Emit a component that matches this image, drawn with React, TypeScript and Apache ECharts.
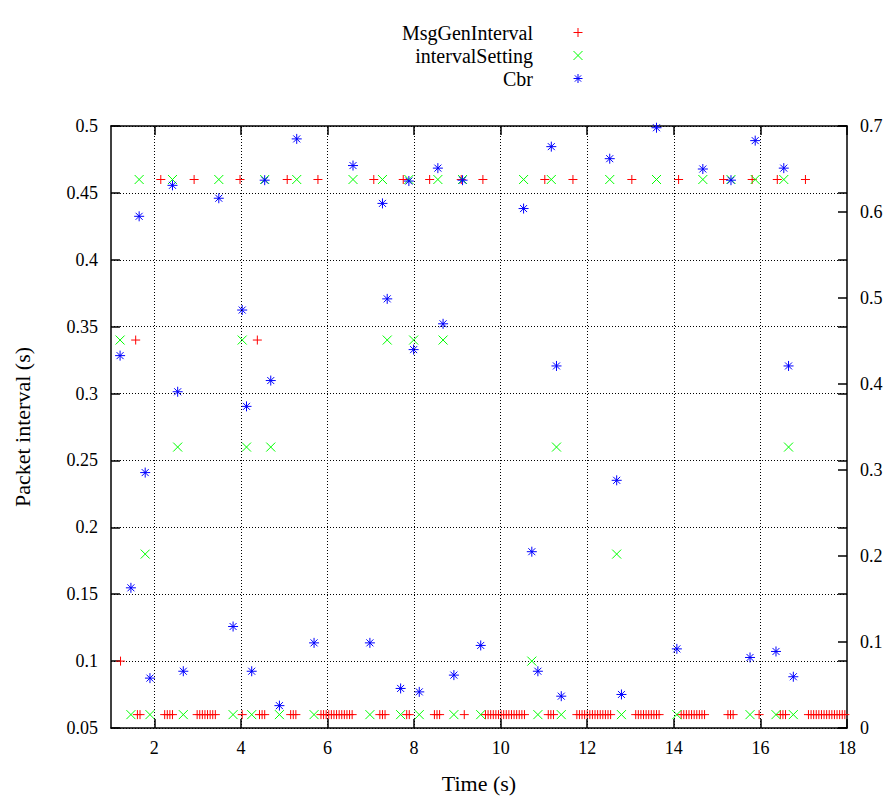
import React, { useEffect, useRef } from "react";
import * as echarts from "echarts";

// Sample times shared by Cbr and intervalSetting (s)
const sampleTime = [1.21, 1.46, 1.65, 1.79, 1.90, 2.42, 2.54, 2.67, 3.49, 3.82, 4.03, 4.13, 4.25, 4.55, 4.69, 4.89, 5.29, 5.69, 6.59, 6.98, 7.27, 7.38, 7.69, 7.88, 7.99, 8.12, 8.55, 8.67, 8.92, 9.12, 9.54, 10.53, 10.72, 10.86, 11.17, 11.29, 11.40, 12.52, 12.68, 12.79, 13.60, 14.07, 14.67, 15.32, 15.76, 15.88, 16.36, 16.54, 16.65, 16.76];
const cbrValue = [0.433, 0.163, 0.595, 0.297, 0.058, 0.631, 0.391, 0.066, 0.616, 0.118, 0.486, 0.374, 0.066, 0.637, 0.404, 0.026, 0.685, 0.099, 0.654, 0.099, 0.610, 0.499, 0.046, 0.636, 0.44, 0.042, 0.651, 0.47, 0.0615, 0.637, 0.096, 0.604, 0.205, 0.066, 0.676, 0.421, 0.037, 0.662, 0.288, 0.039, 0.698, 0.092, 0.650, 0.637, 0.082, 0.683, 0.089, 0.651, 0.421, 0.0596];
const intervalSettingValue = [0.34, 0.06, 0.46, 0.18, 0.06, 0.46, 0.26, 0.06, 0.46, 0.06, 0.34, 0.26, 0.06, 0.46, 0.26, 0.06, 0.46, 0.06, 0.46, 0.06, 0.46, 0.34, 0.06, 0.46, 0.34, 0.06, 0.46, 0.34, 0.06, 0.46, 0.06, 0.46, 0.10, 0.06, 0.46, 0.26, 0.06, 0.46, 0.18, 0.06, 0.46, 0.06, 0.46, 0.46, 0.06, 0.46, 0.06, 0.46, 0.26, 0.06];

// MsgGenInterval samples
const msgTime = [
  1.22, 1.57, 1.61, 1.67, 2.15, 2.24, 2.30, 2.36, 2.42, 2.92,
  2.99, 3.05, 3.11, 3.17, 3.23, 3.29, 3.35, 3.41, 3.98, 4.03,
  4.38, 4.43, 4.49, 4.55, 5.07, 5.15, 5.21, 5.27, 5.78,
  5.85, 5.91, 5.97, 6.03, 6.09, 6.15, 6.21, 6.27, 6.33, 6.39, 6.45, 6.51, 6.57,
  7.07, 7.21, 7.27, 7.33, 7.75, 7.83, 7.89, 8.36, 8.47, 8.53, 8.59, 9.09, 9.16, 9.59,
  9.65, 9.71, 9.77, 9.83, 9.89, 9.95, 10.01, 10.07, 10.13, 10.19, 10.25, 10.31, 10.37, 10.43, 10.49, 10.55,
  11.02, 11.10, 11.16, 11.22, 11.67,
  11.76, 11.82, 11.88, 11.94, 12.00, 12.06, 12.12, 12.18, 12.24, 12.30, 12.36, 12.42, 12.48, 12.54,
  13.03, 13.12, 13.18, 13.24, 13.30, 13.36, 13.42, 13.48, 13.54, 13.60, 13.66,
  14.11, 14.17, 14.23, 14.29, 14.35, 14.41, 14.47, 14.53, 14.59, 14.65, 14.71,
  15.15, 15.25, 15.31, 15.37, 15.81, 15.97, 16.39, 16.46, 16.52, 16.58,
  17.04, 17.11, 17.17, 17.23, 17.29, 17.35, 17.41, 17.47, 17.53, 17.59, 17.65, 17.71, 17.77, 17.83, 17.89, 17.95,
];
const msgValue = [
  0.10, 0.34, 0.06, 0.06, 0.46, 0.06, 0.06, 0.06, 0.06, 0.46,
  0.06, 0.06, 0.06, 0.06, 0.06, 0.06, 0.06, 0.06, 0.46, 0.06,
  0.34, 0.06, 0.06, 0.06, 0.46, 0.06, 0.06, 0.06, 0.46,
  0.06, 0.06, 0.06, 0.06, 0.06, 0.06, 0.06, 0.06, 0.06, 0.06, 0.06, 0.06, 0.06,
  0.46, 0.06, 0.06, 0.06, 0.46, 0.06, 0.06, 0.46, 0.06, 0.06, 0.06, 0.46, 0.06, 0.46,
  0.06, 0.06, 0.06, 0.06, 0.06, 0.06, 0.06, 0.06, 0.06, 0.06, 0.06, 0.06, 0.06, 0.06, 0.06, 0.06,
  0.46, 0.06, 0.06, 0.06, 0.46,
  0.06, 0.06, 0.06, 0.06, 0.06, 0.06, 0.06, 0.06, 0.06, 0.06, 0.06, 0.06, 0.06, 0.06,
  0.46, 0.06, 0.06, 0.06, 0.06, 0.06, 0.06, 0.06, 0.06, 0.06, 0.06,
  0.46, 0.06, 0.06, 0.06, 0.06, 0.06, 0.06, 0.06, 0.06, 0.06, 0.06,
  0.46, 0.06, 0.06, 0.06, 0.46, 0.06, 0.46, 0.06, 0.06, 0.06,
  0.46, 0.06, 0.06, 0.06, 0.06, 0.06, 0.06, 0.06, 0.06, 0.06, 0.06, 0.06, 0.06, 0.06, 0.06, 0.06,
];

const xTickValues = [2, 4, 6, 8, 10, 12, 14, 16, 18];
const xGridValues = [2, 4, 6, 8, 10, 12, 14, 16];
const seriesNames = ["MsgGenInterval", "intervalSetting", "Cbr"];
const seriesColors = ["#ff0000", "#00ff00", "#0000ff"];

const PLUS = "path://M0,5L10,5M5,0L5,10";
const CROSS = "path://M0,0L10,10M0,10L10,0";
const STAR = "path://M0,5L10,5M5,0L5,10M1.5,1.5L8.5,8.5M1.5,8.5L8.5,1.5";
const symbols = [PLUS, CROSS, STAR];
const symbolSizes = [9, 9, 10];

const FONT = "Liberation Serif";

export default function App() {
  const ref = useRef<HTMLDivElement>(null);
  useEffect(() => {
    if (!ref.current) return;
    const chart = echarts.init(ref.current, undefined, { renderer: "svg" });
    const zip = (xs: number[], ys: number[]) => xs.map((x, i) => [x, ys[i]]);
    const tickFmt = (v: number) => String(parseFloat(v.toFixed(2)));
    const gridLine = { type: [1, 2] as any, color: "#000", width: 1 };
    const legendTops = [21, 44, 67];

    const option: any = {
      animation: false,
      backgroundColor: "#fff",
      textStyle: { fontFamily: FONT },
      grid: { left: 111, right: 45, top: 126, bottom: 67, containLabel: false },
      legend: seriesNames.map((name, i) => ({
        data: [
          {
            name,
            icon: symbols[i],
            itemStyle: { color: "rgba(0,0,0,0)", borderColor: seriesColors[i], borderWidth: 1 },
          },
        ],
        align: "right",
        right: 309,
        top: legendTops[i],
        padding: 0,
        itemWidth: 80,
        itemHeight: 9,
        selectedMode: false,
        textStyle: { fontFamily: FONT, fontSize: 20, lineHeight: 23, color: "#000" },
      })),
      xAxis: [
        {
          type: "value",
          min: 1,
          max: 18,
          position: "bottom",
          name: "Time (s)",
          nameLocation: "middle",
          nameGap: 44,
          nameTextStyle: { fontFamily: FONT, fontSize: 22, color: "#000" },
          axisLine: { show: true, onZero: false, lineStyle: { color: "#000", width: 1.5 } },
          axisTick: { show: true, inside: true, length: 9, customValues: xTickValues, lineStyle: { color: "#000", width: 1.5 } },
          axisLabel: { show: true, customValues: xTickValues, fontFamily: FONT, fontSize: 18, color: "#000", margin: 11 },
          splitLine: { show: false },
        },
        {
          type: "value",
          min: 1,
          max: 18,
          position: "top",
          axisLine: { show: true, onZero: false, lineStyle: { color: "#000", width: 1.5 } },
          axisTick: { show: true, inside: true, length: 9, customValues: xTickValues, lineStyle: { color: "#000", width: 1.5 } },
          axisLabel: { show: false },
          splitLine: { show: false },
        },
      ],
      yAxis: [
        {
          type: "value",
          min: 0.05,
          max: 0.5,
          interval: 0.05,
          position: "left",
          name: "Packet interval (s)",
          nameLocation: "middle",
          nameRotate: 90,
          nameGap: 78,
          nameTextStyle: { fontFamily: FONT, fontSize: 22, color: "#000" },
          axisLine: { show: true, onZero: false, lineStyle: { color: "#000", width: 1.5 } },
          axisTick: { show: true, inside: true, length: 9, lineStyle: { color: "#000", width: 1.5 } },
          axisLabel: { fontFamily: FONT, fontSize: 18, color: "#000", margin: 13, formatter: tickFmt },
          splitLine: { show: true, lineStyle: gridLine },
        },
        {
          type: "value",
          min: 0,
          max: 0.7,
          interval: 0.1,
          position: "right",
          axisLine: { show: true, onZero: false, lineStyle: { color: "#000", width: 1.5 } },
          axisTick: { show: true, inside: true, length: 9, lineStyle: { color: "#000", width: 1.5 } },
          axisLabel: { fontFamily: FONT, fontSize: 18, color: "#000", margin: 13, formatter: tickFmt },
          splitLine: { show: false },
        },
        {
          type: "value",
          min: 0.05,
          max: 0.5,
          interval: 0.05,
          position: "right",
          axisLine: { show: false },
          axisTick: { show: true, inside: true, length: 9, lineStyle: { color: "#000", width: 1.5 } },
          axisLabel: { show: false },
          splitLine: { show: false },
        },
      ],
      series: [
        {
          name: seriesNames[0],
          type: "scatter",
          xAxisIndex: 0,
          yAxisIndex: 0,
          symbol: symbols[0],
          symbolSize: symbolSizes[0],
          itemStyle: { color: "rgba(0,0,0,0)", borderColor: seriesColors[0], borderWidth: 1, opacity: 1 },
          emphasis: { disabled: true },
          data: zip(msgTime, msgValue),
          markLine: {
            silent: true,
            symbol: "none",
            label: { show: false },
            lineStyle: gridLine,
            emphasis: { disabled: true },
            data: xGridValues.map((v) => ({ xAxis: v })),
          },
        },
        {
          name: seriesNames[1],
          type: "scatter",
          xAxisIndex: 0,
          yAxisIndex: 0,
          symbol: symbols[1],
          symbolSize: symbolSizes[1],
          itemStyle: { color: "rgba(0,0,0,0)", borderColor: seriesColors[1], borderWidth: 1, opacity: 1 },
          emphasis: { disabled: true },
          data: zip(sampleTime, intervalSettingValue),
        },
        {
          name: seriesNames[2],
          type: "scatter",
          xAxisIndex: 0,
          yAxisIndex: 1,
          symbol: symbols[2],
          symbolSize: symbolSizes[2],
          itemStyle: { color: "rgba(0,0,0,0)", borderColor: seriesColors[2], borderWidth: 1, opacity: 1 },
          emphasis: { disabled: true },
          data: zip(sampleTime, cbrValue),
        },
      ],
    };
    chart.setOption(option);
    return () => chart.dispose();
  }, []);
  return (
    <div
      ref={ref}
      style={{ position: "absolute", left: 0, top: 0, width: 892, height: 799, background: "#fff" }}
    />
  );
}
